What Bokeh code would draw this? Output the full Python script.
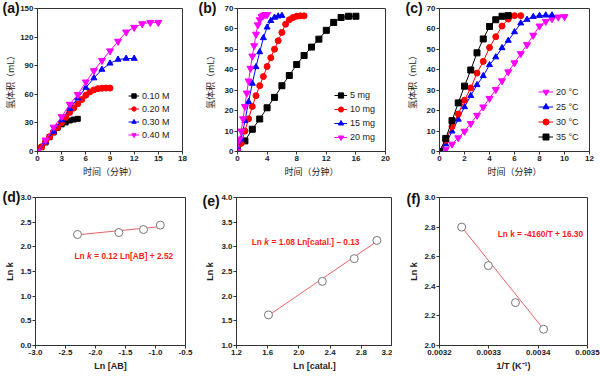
from bokeh.plotting import figure
from bokeh.models import Range1d, FixedTicker, NumeralTickFormatter, Label, Title
from bokeh.layouts import column, row
from bokeh.embed import file_html
from bokeh.resources import INLINE

# ---------------- data ----------------
# (a) concentration of AB
a_x_010 = [0, 0.5, 1, 1.5, 2, 2.5, 3, 3.5, 4, 4.5, 5]
a_y_010 = [0, 4.5, 9.5, 15, 20, 25, 28.5, 30.5, 32.5, 33.5, 34.3]
a_x_020 = [0, 0.5, 1, 1.5, 2, 2.5, 3, 3.5, 4, 4.5, 5, 5.5, 6, 6.5, 7, 7.5, 8, 8.5, 9]
a_y_020 = [0, 5, 10, 15.5, 20.5, 25.5, 30.5, 36, 41, 45.5, 50, 54.5, 59, 62.5, 64.6, 65.9, 66.4, 66.5, 66.5]
a_x_030 = [0, 1, 2, 3, 4, 5, 6, 7, 8, 9, 10, 11, 12]
a_y_030 = [0, 10, 21, 33, 45, 56, 67, 77, 86, 92.5, 96.5, 97.5, 97.5]
a_x_040 = [0, 1, 2, 3, 4, 5, 6, 7, 8, 9, 10, 11, 12, 13, 14, 15]
a_y_040 = [0, 12, 25.5, 36.5, 49.5, 59.7, 72.9, 84.7, 95.5, 105.5, 115.6, 125.3, 130.2, 134, 135.4, 135.4]
a_labels = ["0.10 M", "0.20 M", "0.30 M", "0.40 M"]

# (b) catalyst amount
b_x_5 = [0, 1, 2, 3, 4, 5, 6, 7, 8, 9, 10, 11, 12, 13, 14, 15, 16]
b_y_5 = [0, 5.2, 10.9, 15.9, 21.4, 26.5, 32.2, 37.2, 42.6, 47, 51.1, 55, 59.3, 63.2, 65.6, 66.2, 66.2]
b_x_10 = [0, 0.5, 1, 1.5, 2, 2.5, 3, 3.5, 4, 4.5, 5, 5.5, 6, 6.5, 7, 7.5, 8, 8.5, 9]
b_y_10 = [0, 4, 10, 16, 22, 27.3, 32.2, 36.7, 41.6, 45.9, 50.1, 54.2, 58.3, 62.3, 64.5, 65.6, 66.2, 66.4, 66.4]
b_x_15 = [0, 0.5, 1, 1.5, 2, 2.5, 3, 3.5, 4, 4.5, 5, 5.5, 6]
b_y_15 = [0, 6, 15, 24.3, 33.3, 41.4, 48.7, 55.6, 60.8, 64, 65.6, 66.2, 66.5]
b_x_20 = [0, 0.25, 0.5, 0.75, 1, 1.25, 1.5, 1.75, 2, 2.25, 2.5, 2.75, 3, 3.25, 3.5, 3.75, 4]
b_y_20 = [0, 6, 10, 16, 22, 28.6, 34.5, 40.7, 46.7, 51.8, 57.4, 62, 64.5, 66, 66.6, 67, 67]
b_labels = ["5 mg", "10 mg", "15 mg", "20 mg"]

# (c) temperature
c_x_20 = [0, 0.5, 1, 1.5, 2, 2.5, 3, 3.5, 4, 4.5, 5, 5.5, 6, 6.5, 7, 7.5, 8, 8.5, 9, 9.5, 10]
c_y_20 = [0, 1, 3.6, 6.7, 9.9, 13.7, 17.7, 21.8, 26, 30.3, 34.6, 39, 43.4, 47.9, 52.3, 56.9, 61.4, 63.7, 65, 65.8, 66]
c_x_25 = [0, 0.5, 1, 1.5, 2, 2.5, 3, 3.5, 4, 4.5, 5, 5.5, 6, 6.5, 7, 7.5, 8, 8.5, 9]
c_y_25 = [0, 3.6, 9.9, 15.7, 21.8, 27.3, 32.6, 37, 42.4, 46.2, 50.7, 54.3, 58.5, 62.8, 64.6, 66, 66.5, 66.7, 66.7]
c_x_30 = [0, 0.5, 1, 1.5, 2, 2.5, 3, 3.5, 4, 4.5, 5, 5.5, 6, 6.5]
c_y_30 = [0, 5.5, 12.2, 18.4, 25.1, 31.1, 38.4, 44.1, 50.9, 56.2, 61.4, 64.8, 66.5, 66.5]
c_x_35 = [0, 0.5, 1, 1.5, 2, 2.5, 3, 3.5, 4, 4.5, 5, 5.5]
c_y_35 = [0, 6.4, 15.1, 23.8, 32, 39.9, 48.3, 55.1, 61.2, 64.5, 66.2, 66.5]
c_labels = ["20 °C", "25 °C", "30 °C", "35 °C"]

# (d) ln k vs ln[AB]
d_x = [-2.30, -1.61, -1.20, -0.92]
d_y = [2.25, 2.29, 2.35, 2.44]
d_fit_x = [-2.30, -0.90]
d_fit_y = [2.244, 2.412]

# (e) ln k vs ln[catal.]
e_x = [1.61, 2.30, 2.71, 3.00]
e_y = [1.62, 2.30, 2.76, 3.13]
e_fit_x = [1.60, 3.00]
e_fit_y = [1.598, 3.11]

# (f) ln k vs 1/T
f_x = [0.003245, 0.003299, 0.003354, 0.003411]
f_y = [2.80, 2.54, 2.29, 2.11]
f_fit_x = [0.003245, 0.003411]
f_fit_y = [2.80, 2.11]

panel_names = ["(a)", "(b)", "(c)", "(d)", "(e)", "(f)"]

BLACK, RED, BLUE, MAG = "#000000", "#FF0000", "#0000FF", "#FF00FF"
FONT = "Liberation Sans"
CJK = "Noto Sans CJK SC"


def base_fig(w, h, xr, yr, bl, br, bt, bb, xt, yt, xfmt, yfmt):
    p = figure(width=w, height=h, x_range=Range1d(*xr), y_range=Range1d(*yr),
               output_backend="svg", toolbar_location=None, tools="")
    p.min_border_left = bl
    p.min_border_right = br
    p.min_border_top = bt
    p.min_border_bottom = bb
    p.grid.visible = False
    p.outline_line_color = "#333333"
    p.outline_line_width = 1
    p.outline_line_alpha = 1
    p.background_fill_color = "white"
    p.border_fill_color = "white"
    p.xaxis.ticker = FixedTicker(ticks=xt)
    p.yaxis.ticker = FixedTicker(ticks=yt)
    p.xaxis.formatter = NumeralTickFormatter(format=xfmt)
    p.yaxis.formatter = NumeralTickFormatter(format=yfmt)
    for ax in (p.xaxis[0], p.yaxis[0]):
        ax.major_tick_in = 0
        ax.major_tick_out = 3
        ax.minor_tick_in = 0
        ax.minor_tick_out = 0
        ax.axis_line_color = "#333333"
        ax.major_tick_line_color = "#333333"
        ax.major_label_text_font = FONT
        ax.major_label_text_font_style = "bold"
        ax.major_label_text_font_size = "8px"
        ax.major_label_text_color = "#222222"
        ax.major_label_standoff = 1
        ax.axis_label_text_color = "#222222"
    return p


def panel_label(p, text, offset, standoff):
    p.add_layout(Title(text=text, align="left", offset=offset, standoff=standoff,
                       text_font=FONT, text_font_size="14px", text_font_style="bold",
                       text_color="#111111"), "above")


def top_axes_labels(p, ystandoff):
    p.xaxis.axis_label = "时间（分钟）"
    p.yaxis.axis_label = "氢体积（mL）"
    for ax in (p.xaxis[0], p.yaxis[0]):
        ax.axis_label_text_font = CJK
        ax.axis_label_text_font_size = "9px"
        ax.axis_label_text_font_style = "normal"
    p.xaxis.axis_label_standoff = 1
    p.yaxis.axis_label_standoff = ystandoff


def series(p, xs, ys, color, marker, label, size=6):
    p.line(xs, ys, line_color=color, line_width=1, legend_label=label)
    p.scatter(xs, ys, marker=marker, size=size, fill_color=color, line_color=color,
              legend_label=label)


def style_legend(p, loc, gw, gh, sp):
    lg = p.legend[0]
    lg.location = loc
    lg.padding = 0
    lg.margin = 0
    lg.spacing = sp
    lg.border_line_color = None
    lg.background_fill_alpha = 0
    lg.glyph_width = gw
    lg.glyph_height = gh
    lg.label_height = gh
    lg.label_standoff = 3
    lg.label_text_font = FONT
    lg.label_text_font_size = "9px"
    lg.label_text_color = "#222222"


# ---------------- (a) ----------------
pa = base_fig(195, 180, (0, 18), (0, 150), 37, 13, 8, 25,
              [0, 3, 6, 9, 12, 15, 18], [0, 30, 60, 90, 120, 150], "0", "0")
top_axes_labels(pa, 0)
series(pa, a_x_010, a_y_010, BLACK, "square", a_labels[0], 5)
series(pa, a_x_020, a_y_020, RED, "circle", a_labels[1], 6)
series(pa, a_x_030, a_y_030, BLUE, "triangle", a_labels[2], 6)
series(pa, a_x_040, a_y_040, MAG, "inverted_triangle", a_labels[3], 7)
style_legend(pa, (91, 10), 11, 13, -4)
panel_label(pa, panel_names[0], -35, -14)

# ---------------- (b) ----------------
pb = base_fig(195, 180, (0, 20), (0, 70), 42, 5, 7, 25,
              [0, 4, 8, 12, 16, 20], [0, 10, 20, 30, 40, 50, 60, 70], "0", "0")
top_axes_labels(pb, 5)
series(pb, b_x_5, b_y_5, BLACK, "square", b_labels[0], 6)
series(pb, b_x_10, b_y_10, RED, "circle", b_labels[1], 6)
series(pb, b_x_15, b_y_15, BLUE, "triangle", b_labels[2], 6)
series(pb, b_x_20, b_y_20, MAG, "inverted_triangle", b_labels[3], 7)
style_legend(pb, (97, 7), 13, 14, -5)
panel_label(pb, panel_names[1], -39, -14)

# ---------------- (c) ----------------
pc = base_fig(210, 180, (0, 12), (0, 70), 49, 11, 7, 25,
              [0, 2, 4, 6, 8, 10, 12], [0, 10, 20, 30, 40, 50, 60, 70], "0", "0")
top_axes_labels(pc, 5)
series(pc, c_x_20, c_y_20, MAG, "inverted_triangle", c_labels[0], 7)
series(pc, c_x_25, c_y_25, BLUE, "triangle", c_labels[1], 6)
series(pc, c_x_30, c_y_30, RED, "circle", c_labels[2], 6)
series(pc, c_x_35, c_y_35, BLACK, "square", c_labels[3], 6)
style_legend(pc, (99, 7), 15, 15, -5)
panel_label(pc, panel_names[2], -34, -14)


# ---------------- bottom row ----------------
def bottom_common(p, xlabel, ystandoff):
    p.xaxis.axis_label = xlabel
    p.yaxis.axis_label = "Ln k"
    for ax in (p.xaxis[0], p.yaxis[0]):
        ax.axis_label_text_font = FONT
        ax.axis_label_text_font_size = "9px"
        ax.axis_label_text_font_style = "bold"
    p.xaxis.axis_label_standoff = 3
    p.yaxis.axis_label_standoff = ystandoff


def fit_and_points(p, fx, fy, xs, ys):
    p.line(fx, fy, line_color="#E86464", line_width=1)
    p.scatter(xs, ys, marker="circle", size=8, fill_color="white", fill_alpha=1,
              line_color="#777777", line_width=1)


def equation(p, x, y, parts):
    off = 0
    for text, style, width in parts:
        p.add_layout(Label(x=x, y=y, x_offset=off, text=text, text_font=FONT,
                           text_font_size="8.3px", text_font_style=style,
                           text_color="#FF1A1A", text_baseline="middle", text_align="left"))
        off += width


# (d)
pd_ = base_fig(195, 196, (-3.0, -0.5), (0.0, 3.0), 35, 10, 17, 29,
               [-3.0, -2.5, -2.0, -1.5, -1.0, -0.5], [0.0, 0.5, 1.0, 1.5, 2.0, 2.5, 3.0],
               "0.0", "0.0")
bottom_common(pd_, "Ln [AB]", 2)
fit_and_points(pd_, d_fit_x, d_fit_y, d_x, d_y)
equation(pd_, -2.35, 1.81, [("Ln", "bold", 12.4), ("k", "bold italic", 7.4),
                              ("= 0.12 Ln[AB] + 2.52", "bold", 0)])
panel_label(pd_, panel_names[3], -33, -14)

# (e)
pe = base_fig(197, 196, (1.2, 3.2), (1.0, 4.0), 41, 0, 15, 28,
              [1.2, 1.6, 2.0, 2.4, 2.8, 3.2], [1.0, 1.5, 2.0, 2.5, 3.0, 3.5, 4.0],
              "0.0", "0.0")
bottom_common(pe, "Ln [catal.]", 3)
fit_and_points(pe, e_fit_x, e_fit_y, e_x, e_y)
equation(pe, 1.396, 3.094, [("Ln", "bold", 12.4), ("k", "bold italic", 7.4),
                             ("= 1.08 Ln[catal.] – 0.13", "bold", 0)])
panel_label(pe, panel_names[4], -34, -22)

# (f)
pf = base_fig(208, 196, (0.0032, 0.0035), (2.0, 3.0), 47, 13, 17, 31,
              [0.0032, 0.0033, 0.0034, 0.0035], [2.0, 2.2, 2.4, 2.6, 2.8, 3.0],
              "0.0000", "0.0")
bottom_common(pf, "1/T (K⁻¹)", 2)
fit_and_points(pf, f_fit_x, f_fit_y, f_x, f_y)
equation(pf, 0.003318, 2.754, [("Ln k = -4160/T + 16.30", "bold", 0)])
panel_label(pf, panel_names[5], -33, -18)

layout = column(row(pa, pb, pc), row(pd_, pe, pf))
open("out.html", "w").write(file_html(layout, INLINE))
